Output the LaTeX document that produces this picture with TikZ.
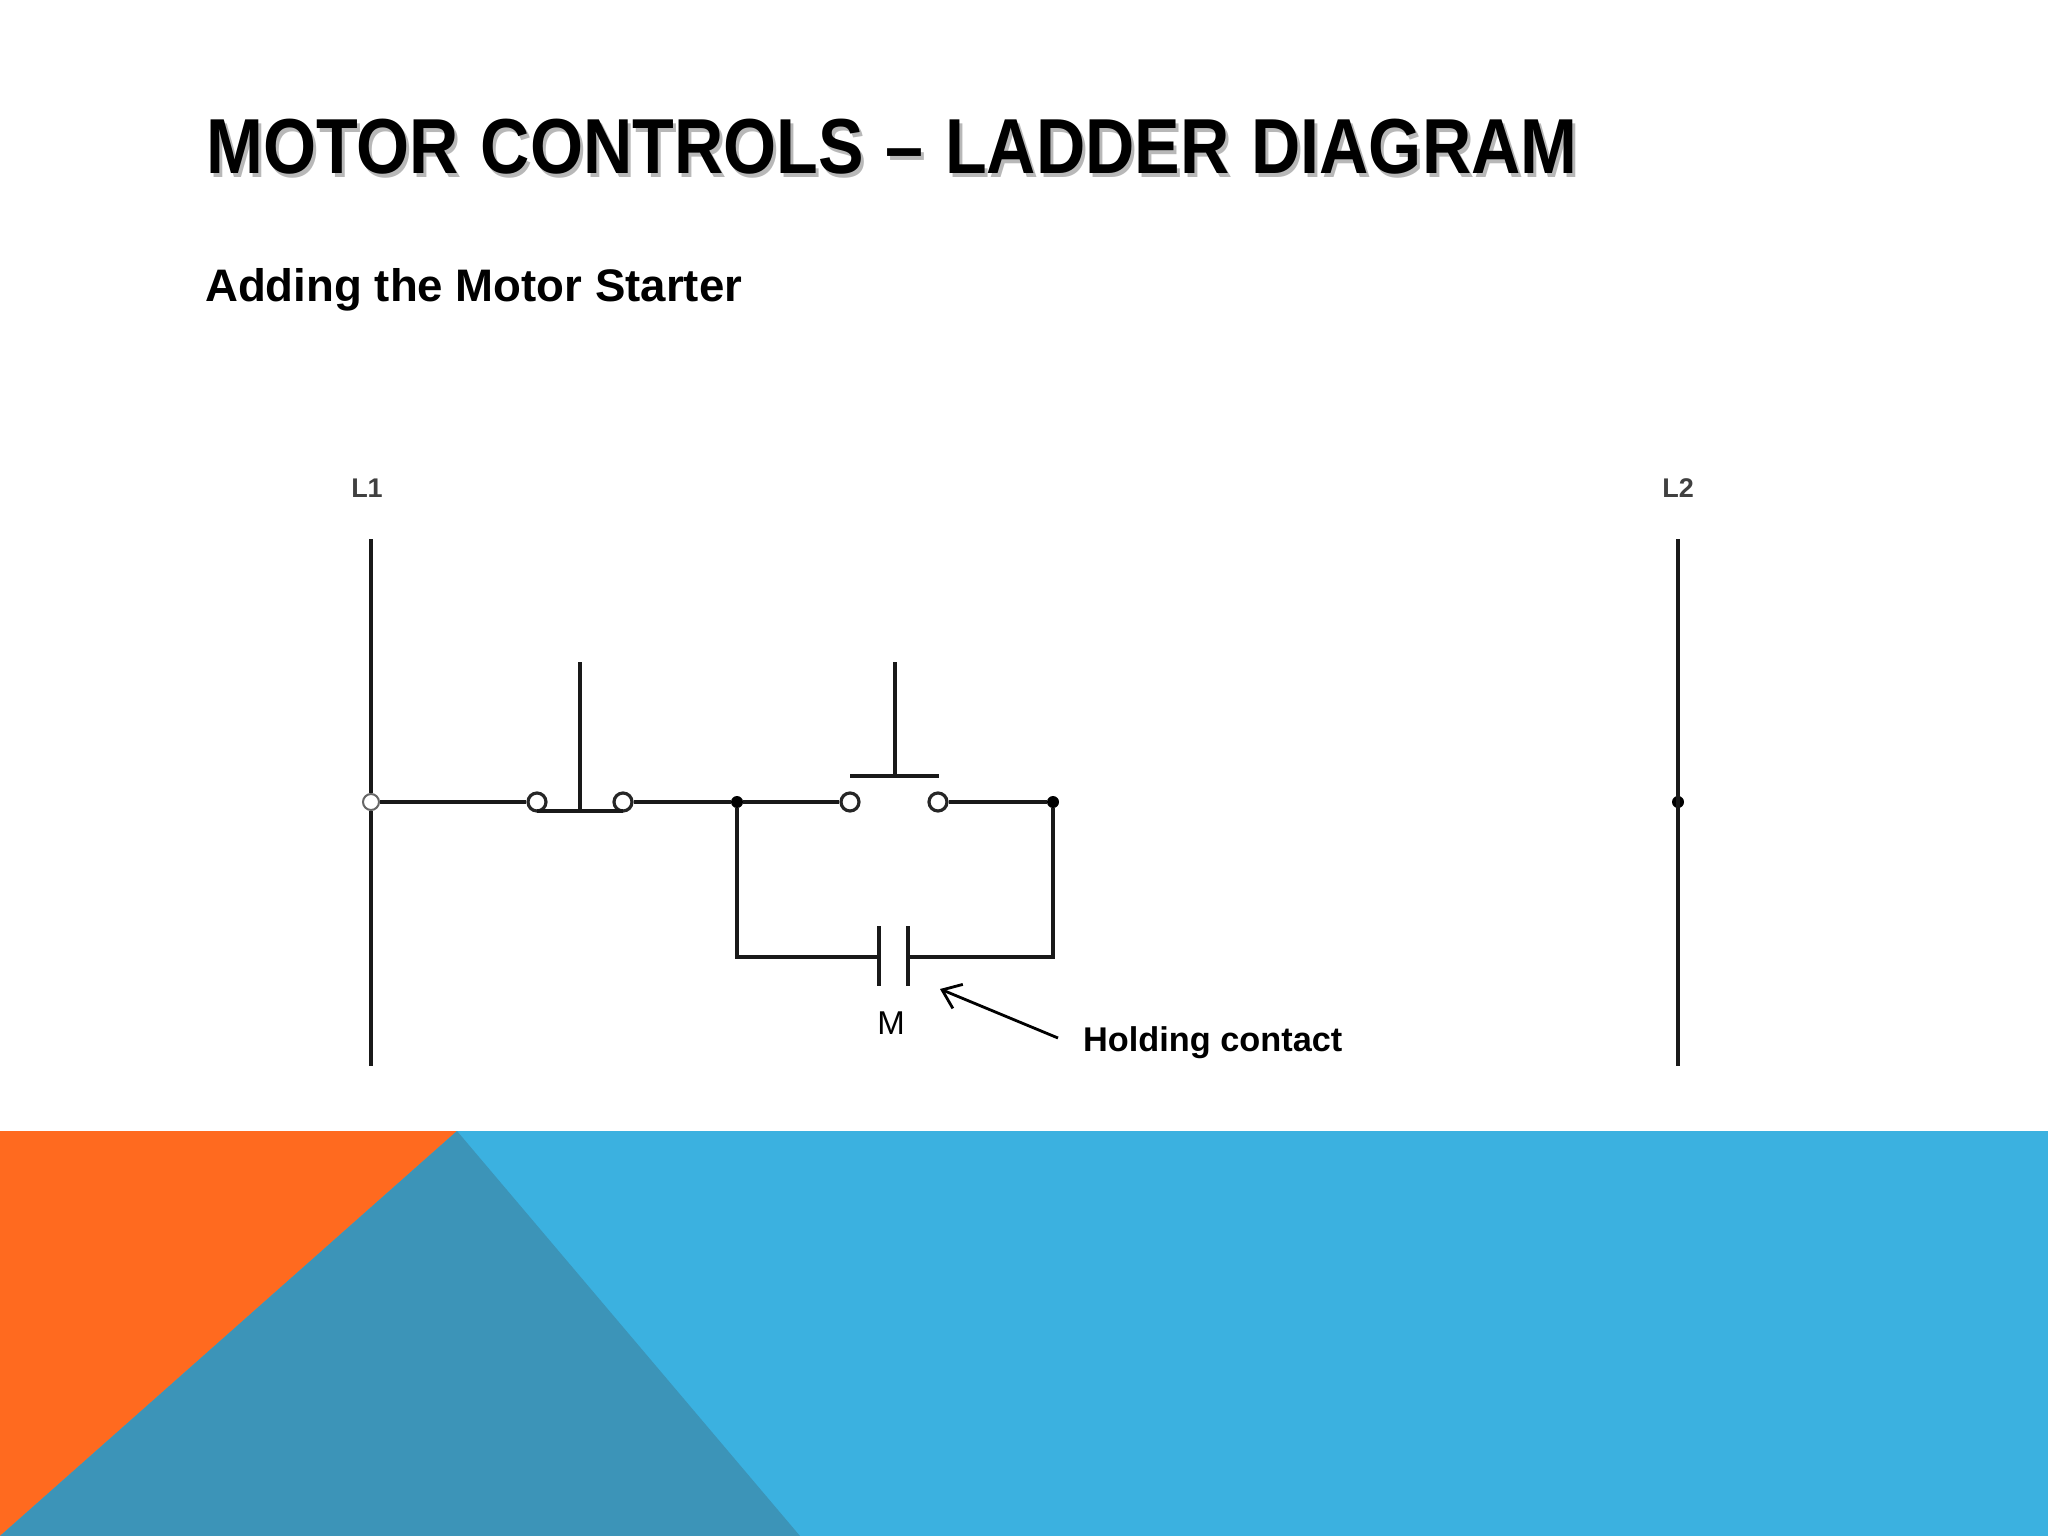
\documentclass[tikz,border=0pt]{standalone}
\usepackage{fontspec}
\usetikzlibrary{arrows.meta}
\setmainfont{Liberation Sans}
\newfontfamily\titlefont[FakeStretch=0.875,WordSpace=1.15]{Liberation Sans}
\definecolor{bandBlue}{HTML}{3BB1E0}
\definecolor{bandOrange}{HTML}{FF6A1F}
\definecolor{bandTeal}{HTML}{3C94B8}
\tikzset{
    wire/.style={line width=3.2pt, black!90},
    term/.style={circle, draw=black!85, line width=3.2pt, fill=white, inner sep=0pt, minimum size=18pt},
    railterm/.style={circle, draw=black!60, line width=2pt, fill=white, inner sep=0pt, minimum size=16pt},
    junc/.style={circle, fill=black, inner sep=0pt, minimum size=12pt},
    titletext/.style={anchor=base west, inner sep=0pt, font=\titlefont\bfseries\fontsize{78}{80}\selectfont},
    boldtext/.style={anchor=base west, inner sep=0pt, font=\bfseries\fontsize{34.3}{40}\selectfont},
    railtext/.style={inner sep=0pt, text=black!75, font=\bfseries\fontsize{27}{29}\selectfont},
}
\begin{document}
\begin{tikzpicture}[>={Straight Barb[length=17pt,width=26pt]}, x=1pt, y=-1pt]
    \def\rungY{802}
    \def\lowY{957}
    \def\stemTop{662}

    \useasboundingbox (0,0) rectangle (2048,1536);

    % background band
    \fill[bandBlue] (0,1131) rectangle (2048,1536);
    \fill[bandOrange] (0,1131) -- (457,1131) -- (0,1536) -- cycle;
    \fill[bandTeal] (457,1131) -- (800,1536) -- (0,1536) -- cycle;

    % headings
    \node[titletext, text=black!28] at (209,178) {MOTOR CONTROLS – LADDER DIAGRAM};
    \node[titletext] (title) at (206,174) {MOTOR CONTROLS – LADDER DIAGRAM};
    \node[boldtext, font=\bfseries\fontsize{45.6}{48}\selectfont] (subtitle) at (205,301) {Adding the Motor Starter};

    % rails
    \node[railtext] (L1text) at (367,488) {L1};
    \node[railtext] (L2text) at (1678,488) {L2};
    \coordinate (L1top) at (371,539);
    \coordinate (L1bot) at (371,1066);
    \coordinate (L2top) at (1678,539);
    \coordinate (L2bot) at (1678,1066);
    \node[railterm] (L1term) at (371,\rungY) {};
    \node[junc] (L2junc) at (1678,\rungY) {};
    \draw[wire] (L1top) -- (L1term);
    \draw[wire] (L1term) -- (L1bot);
    \draw[wire] (L2top) -- (L2bot);

    % stop button
    \node[term] (stopA) at (537,\rungY) {};
    \node[term] (stopB) at (623,\rungY) {};
    \coordinate (stopTop) at (580,\stemTop);
    \coordinate (stopBase) at (580,811);
    \coordinate (stopBarA) at (537,811);
    \coordinate (stopBarB) at (623,811);
    \draw[wire] (stopTop) -- (stopBase);
    \draw[wire] (stopBarA) -- (stopBarB);

    % start button
    \node[term] (startA) at (850,\rungY) {};
    \node[term] (startB) at (938,\rungY) {};
    \coordinate (startTop) at (895,\stemTop);
    \coordinate (startBase) at (895,776);
    \coordinate (startBarA) at (850,776);
    \coordinate (startBarB) at (939,776);
    \draw[wire] (startTop) -- (startBase);
    \draw[wire] (startBarA) -- (startBarB);

    % junctions and rung
    \node[junc] (juncA) at (737,\rungY) {};
    \node[junc] (juncB) at (1053,\rungY) {};
    \draw[wire] (L1term) -- (stopA);
    \draw[wire] (stopB) -- (juncA);
    \draw[wire] (juncA) -- (startA);
    \draw[wire] (startB) -- (juncB);

    % holding contact
    \coordinate (lowA) at (737,\lowY);
    \coordinate (lowB) at (1053,\lowY);
    \coordinate (plateA) at (879,\lowY);
    \coordinate (plateB) at (908,\lowY);
    \coordinate (plateAtop) at (879,926);
    \coordinate (plateAbot) at (879,986);
    \coordinate (plateBtop) at (908,926);
    \coordinate (plateBbot) at (908,986);
    \draw[wire] (juncA) -- (lowA) -- (plateA);
    \draw[wire] (juncB) -- (lowB) -- (plateB);
    \draw[wire] (plateAtop) -- (plateAbot);
    \draw[wire] (plateBtop) -- (plateBbot);

    \node[inner sep=0pt, font=\fontsize{33}{36}\selectfont] (Mtext) at (891,1023) {M};
    \node[boldtext] (holdText) at (1083,1051) {Holding contact};
    \coordinate (arrowTail) at (1058,1038);
    \coordinate (arrowTip) at (940,989);
    \draw[->, line width=2.8pt] (arrowTail) -- (arrowTip);
\end{tikzpicture}
\end{document}
